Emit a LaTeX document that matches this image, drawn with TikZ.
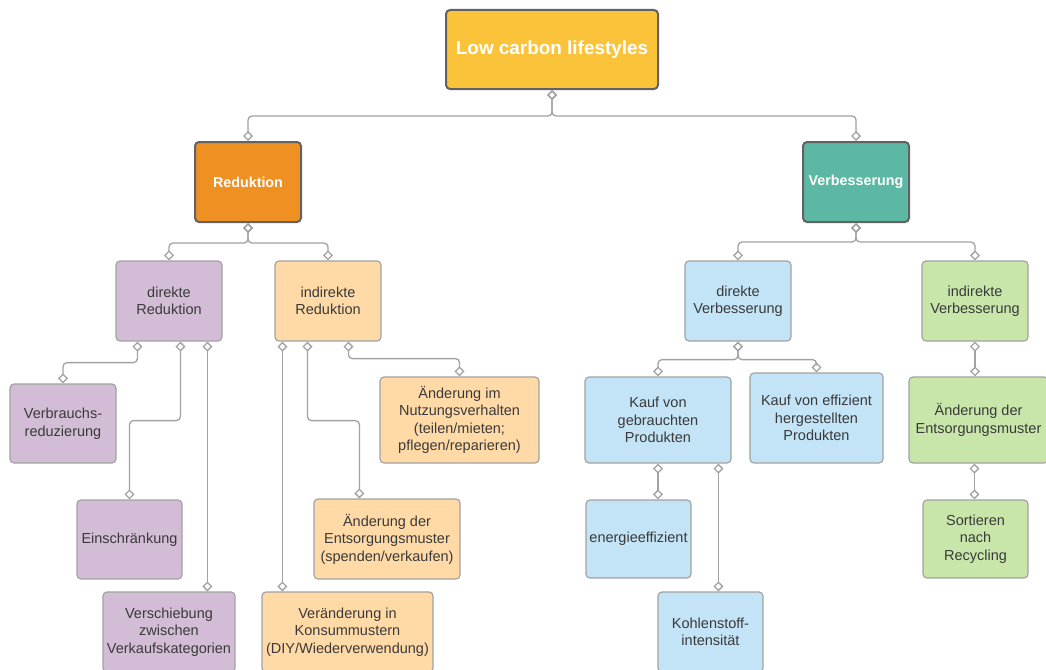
\documentclass[tikz,border=0pt]{standalone}
\usepackage{fontspec}
\setmainfont{Liberation Sans}
\usetikzlibrary{arrows.meta,calc}

\definecolor{linegray}{HTML}{A2A2A2}
\definecolor{framegray}{HTML}{626262}
\definecolor{textgray}{HTML}{3A3A3A}
\definecolor{rootyellow}{HTML}{FBC33A}
\definecolor{redorange}{HTML}{EF9023}
\definecolor{verteal}{HTML}{5CB8A4}
\definecolor{lilac}{HTML}{D3BCD5}
\definecolor{peach}{HTML}{FFDAA6}
\definecolor{skyblue}{HTML}{C3E3F6}
\definecolor{leafgreen}{HTML}{C8E6AA}

\tikzset{
	topbox/.style={draw=framegray, line width=2pt, rounded corners=4pt, fill=#1, text=white,
		font=\bfseries\fontsize{14.3}{17}\selectfont, minimum width=106pt, minimum height=80pt, align=center},
	leafbox/.style={draw=linegray, line width=1.2pt, rounded corners=4pt, fill=#1, text=textgray,
		font=\fontsize{14.5}{17.5}\selectfont, minimum width=106pt, minimum height=80pt, align=center, inner sep=1pt},
	conn/.style={draw=linegray, line width=1.3pt, rounded corners=4pt,
		>={Diamond[open,length=10pt,width=10pt]}, <->}
}

\begin{document}
\begin{tikzpicture}[x=1pt, y=-1pt]
	\useasboundingbox (0,0) rectangle (1046,669);

	\node [topbox=rootyellow, minimum width=212pt, minimum height=79pt, font=\bfseries\fontsize{18.9}{22}\selectfont] (root) at (552,49.5) {Low carbon lifestyles};
	\node [topbox=redorange] (red) at (248,182) {Reduktion};
	\node [topbox=verteal] (ver) at (856,182) {Verbesserung};

	\node [leafbox=lilac] (dr) at (169,301) {direkte\\Reduktion};
	\node [leafbox=peach] (ir) at (328,301) {indirekte\\Reduktion};
	\node [leafbox=skyblue] (dv) at (738,301) {direkte\\Verbesserung};
	\node [leafbox=leafgreen] (iv) at (975,301) {indirekte\\Verbesserung};

	\node [leafbox=lilac, minimum height=79pt] (vr) at (63,423.5) {Verbrauchs-\\reduzierung};
	\node [leafbox=lilac, minimum width=105pt, minimum height=79pt] (ein) at (129.5,539.5) {Einschränkung};
	\node [leafbox=lilac, minimum width=132pt] (vs) at (169,632) {Verschiebung\\zwischen\\Verkaufskategorien};
	\node [leafbox=peach, minimum width=159pt, minimum height=86pt] (nv) at (459.5,420) {Änderung im\\Nutzungsverhalten\\(teilen/mieten;\\pflegen/reparieren)};
	\node [leafbox=peach, minimum width=146pt] (em) at (387,539) {Änderung der\\Entsorgungsmuster\\(spenden/verkaufen)};
	\node [leafbox=peach, minimum width=171pt] (kv) at (347.5,632) {Veränderung in\\Konsummustern\\(DIY/Wiederverwendung)};

	\node [leafbox=skyblue, minimum width=146pt, minimum height=86pt] (kg) at (658,420) {Kauf von\\gebrauchten\\Produkten};
	\node [leafbox=skyblue, minimum width=133pt, minimum height=90pt] (ke) at (816.5,418) {Kauf von effizient\\hergestellten\\Produkten};
	\node [leafbox=skyblue, minimum width=105pt, minimum height=78pt] (ee) at (638.5,539) {energieeffizient};
	\node [leafbox=skyblue, minimum width=105pt] (ki) at (710.5,632) {Kohlenstoff-\\intensität};
	\node [leafbox=leafgreen, minimum width=139pt, minimum height=86pt] (ae) at (978.5,420) {Änderung der\\Entsorgungsmuster};
	\node [leafbox=leafgreen, minimum width=105pt, minimum height=78pt] (sr) at (975.5,539) {Sortieren\\nach\\Recycling};

	\draw [conn] (root.south) -- ++(0,26) -| (red.north);
	\draw [conn] (root.south) -- ++(0,26) -| (ver.north);
	\draw [conn] (red.south) -- ++(0,20) -| (dr.north);
	\draw [conn] (red.south) -- ++(0,20) -| (ir.north);
	\draw [conn] (ver.south) -- ++(0,19) -| (dv.north);
	\draw [conn] (ver.south) -- ++(0,19) -| (iv.north);

	\draw [conn] ($(dr.south west)+(22,0)$) -- ++(0,21) -| (vr.north);
	\draw [conn] ($(dr.south west)+(65,0)$) -- ++(0,79) -| (ein.north);
	\draw [conn] ($(dr.south west)+(92,0)$) -- ($(vs.north west)+(105,0)$);
	\draw [conn] ($(ir.south west)+(8,0)$) -- ($(kv.north west)+(21,0)$);
	\draw [conn] ($(ir.south west)+(33,0)$) -- ++(0,79) -| ($(em.north west)+(46,0)$);
	\draw [conn] ($(ir.south west)+(74,0)$) -- ++(0,17) -| (nv.north);

	\draw [conn] (dv.south) -- ++(0,18) -| (kg.north);
	\draw [conn] (dv.south) -- ++(0,18) -| (ke.north);
	\draw [conn] (kg.south) -- (kg.south |- ee.north);
	\draw [conn] ($(kg.south west)+(134,0)$) -- ($(ki.north west)+(61,0)$);
	\draw [conn] (iv.south) -- (iv.south |- ae.north);
	\draw [conn] ($(ae.south west)+(66,0)$) -- ($(sr.north west)+(52,0)$);
\end{tikzpicture}
\end{document}
